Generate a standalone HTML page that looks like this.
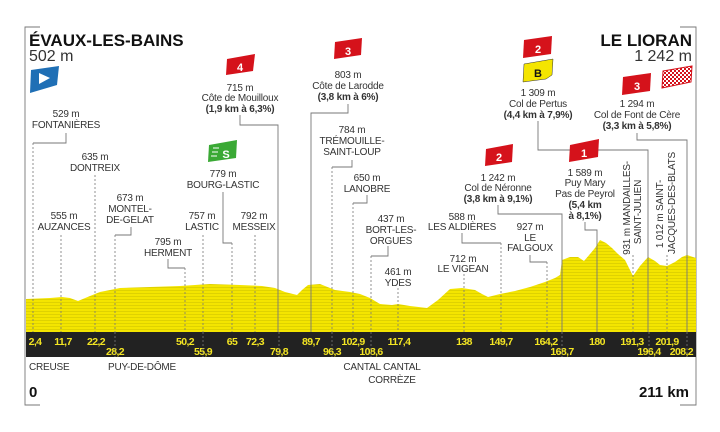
<!DOCTYPE html><html><head><meta charset="utf-8"><style>
html,body{margin:0;padding:0;background:#fff;width:720px;height:432px;overflow:hidden}
svg{display:block;font-family:"Liberation Sans",sans-serif}
.t{font-size:10px;fill:#333;text-anchor:middle;letter-spacing:-0.2px}
.b{font-weight:bold}
.k{font-size:10.5px;font-weight:bold;fill:#f3e523;text-anchor:middle;letter-spacing:-0.6px}
.d{stroke:#777;stroke-width:0.8;stroke-dasharray:2 2;fill:none}
.s{stroke:#777;stroke-width:0.9;fill:none}
.bd{fill:#fff;font-weight:bold;font-size:11px;text-anchor:middle}
</style></head><body>
<svg width="720" height="432" viewBox="0 0 720 432">
<defs><pattern id="st" width="4" height="3" patternUnits="userSpaceOnUse"><rect width="4" height="3" fill="#f4e500"/><rect y="2.1" width="4" height="0.9" fill="#ddd000"/></pattern>
<pattern id="ck" width="4" height="4" patternUnits="userSpaceOnUse"><rect width="4" height="4" fill="#fff"/><rect width="2" height="2" fill="#d5121b"/><rect x="2" y="2" width="2" height="2" fill="#d5121b"/></pattern></defs>
<!-- frame -->
<path class="s" d="M40 27H25V405H40M680 27H696V405H680" stroke="#999"/>
<!-- profile -->
<path fill="url(#st)" d="M26 299L50 298L62 297L70 298L78 301L90 296L100 292L120 288L150 287L180 286L210 284L240 285L262 286L275 288L285 292L297 295L302 290L308 285L320 284L335 290L350 292L360 294L370 298L380 304L392 305L398 304L410 306L427 308L438 300L450 289L462 288L475 290L482 294L488 297L500 294L515 291L530 287L545 282L555 278L560 275L562 260L570 257L578 257L584 261L590 254L595 248L600 240L606 243L612 248L618 254L625 260L633 276L640 266L648 257L655 261L660 265L667 266L675 262L682 257L687 255L696 258V332H26Z"/>
<rect x="26" y="332" width="670" height="25" fill="#222"/>
<!-- km labels -->
<g class="k">
<text x="35" y="345">2,4</text><text x="63" y="345">11,7</text><text x="96" y="345">22,2</text><text x="185" y="345">50,2</text><text x="232" y="345">65</text><text x="255" y="345">72,3</text><text x="311" y="345">89,7</text><text x="353" y="345">102,9</text><text x="399" y="345">117,4</text><text x="464" y="345">138</text><text x="501" y="345">149,7</text><text x="546" y="345">164,2</text><text x="597" y="345">180</text><text x="632" y="345">191,3</text><text x="667" y="345">201,9</text>
<text x="115" y="355">28,2</text><text x="203" y="355">55,9</text><text x="279" y="355">79,8</text><text x="332" y="355">96,3</text><text x="371" y="355">108,6</text><text x="562" y="355">168,7</text><text x="649" y="355">196,4</text><text x="693" y="355" style="text-anchor:end">208,2</text>
</g>
<!-- leader lines -->
<path class="d" d="M33 143V332M61 235V332M95 175V332M115 235V332M185 268V332M203 235V332M232 243V332M255 235V332M353 203V332M332 167V332M371 256V332M398 288V332M464 274V332M501 243V332M547 262V332M633 255V332M667 255V332M115 332V357M203 332V357M279 332V357M332 332V357M371 332V357M562 332V357M649 332V357M687 332V357"/>
<path class="s" d="M66 133V143H33M131 227V235H115M168 259V268H185M223 192V243H232M352 160V167H332M367 195V203H353M388 246V256H371M462 233V243H501M530 255V262H547"/>
<path class="s" d="M240 115V125H278V332M348 104V113H311V332M498 205V214H562V332M585 222V230H597V332M538 121V150H648V332M637 133V140H687V332"/>
<!-- texts -->
<g class="t">
<text x="66" y="117">529 m</text><text x="66" y="128">FONTANIÈRES</text>
<text x="95" y="160">635 m</text><text x="95" y="171">DONTREIX</text>
<text x="130" y="201">673 m</text><text x="130" y="212">MONTEL-</text><text x="130" y="223">DE-GELAT</text>
<text x="64" y="219">555 m</text><text x="64" y="230">AUZANCES</text>
<text x="168" y="245">795 m</text><text x="168" y="256">HERMENT</text>
<text x="223" y="177">779 m</text><text x="223" y="188">BOURG-LASTIC</text>
<text x="202" y="219">757 m</text><text x="202" y="230">LASTIC</text>
<text x="254" y="219">792 m</text><text x="254" y="230">MESSEIX</text>
<text x="240" y="91">715 m</text><text x="240" y="101">Côte de Mouilloux</text><text x="240" y="112" class="b">(1,9 km à 6,3%)</text>
<text x="348" y="78">803 m</text><text x="348" y="89">Côte de Larodde</text><text x="348" y="100" class="b">(3,8 km à 6%)</text>
<text x="352" y="133">784 m</text><text x="352" y="144">TRÉMOUILLE-</text><text x="352" y="155">SAINT-LOUP</text>
<text x="367" y="181">650 m</text><text x="367" y="192">LANOBRE</text>
<text x="391" y="222">437 m</text><text x="391" y="233">BORT-LES-</text><text x="391" y="244">ORGUES</text>
<text x="398" y="275">461 m</text><text x="398" y="286">YDES</text>
<text x="462" y="220">588 m</text><text x="462" y="230">LES ALDIÈRES</text>
<text x="463" y="262">712 m</text><text x="463" y="272">LE VIGEAN</text>
<text x="498" y="181">1 242 m</text><text x="498" y="191">Col de Néronne</text><text x="498" y="202" class="b">(3,8 km à 9,1%)</text>
<text x="530" y="230">927 m</text><text x="530" y="241">LE</text><text x="530" y="251">FALGOUX</text>
<text x="585" y="176">1 589 m</text><text x="585" y="186">Puy Mary</text><text x="585" y="197">Pas de Peyrol</text><text x="585" y="208" class="b">(5,4 km</text><text x="585" y="219" class="b">à 8,1%)</text>
<text x="538" y="96">1 309 m</text><text x="538" y="107">Col de Pertus</text><text x="538" y="118" class="b">(4,4 km à 7,9%)</text>
<text x="637" y="107">1 294 m</text><text x="637" y="118">Col de Font de Cère</text><text x="637" y="129" class="b">(3,3 km à 5,8%)</text>
<text transform="translate(630,208) rotate(-90)">931 m MANDAILLES-</text>
<text transform="translate(641,212) rotate(-90)">SAINT-JULIEN</text>
<text transform="translate(663,214) rotate(-90)">1 012 m SAINT-</text>
<text transform="translate(675,203) rotate(-90)">JACQUES-DES-BLATS</text>
<text x="29" y="370" style="text-anchor:start">CREUSE</text>
<text x="108" y="370" style="text-anchor:start">PUY-DE-DÔME</text>
<text x="382" y="370">CANTAL CANTAL</text>
<text x="392" y="383">CORRÈZE</text>
</g>
<text x="29" y="46" style="font-size:17px;font-weight:bold;fill:#111">ÉVAUX-LES-BAINS</text>
<text x="29" y="61" style="font-size:16px;fill:#333">502 m</text>
<text x="692" y="46" style="font-size:17px;font-weight:bold;fill:#111;text-anchor:end">LE LIORAN</text>
<text x="692" y="61" style="font-size:16px;fill:#333;text-anchor:end">1 242 m</text>
<text x="29" y="397" style="font-size:15px;font-weight:bold;fill:#111">0</text>
<text x="689" y="397" style="font-size:15px;font-weight:bold;fill:#111;text-anchor:end">211 km</text>
<!-- badges -->
<path d="M31 70L59 66L57 85L30 93Z" fill="#1f6fb5"/><path d="M39 73L50 78L39 84Z" fill="#fff"/>
<g><path d="M227 59L255 54L253 71L226 75Z" fill="#d5121b"/><text class="bd" x="240" y="71">4</text></g>
<g><path d="M335 42L362 38L361 55L334 59Z" fill="#d5121b"/><text class="bd" x="348" y="55">3</text></g>
<path d="M209 145L237 140L236 158L208 162Z" fill="#3aa935"/><text class="bd" x="226" y="158">S</text><path d="M213 148h6M212 152h6M211 156h6" stroke="#fff" stroke-width="1"/>
<g><path d="M524 40L552 36L551 54L523 58Z" fill="#d5121b"/><text class="bd" x="538" y="53">2</text></g>
<path d="M524 64L553 59L552 75L546 79L523 82Z" fill="#f4e500" stroke="#333" stroke-width="0.5"/><text x="538" y="77" style="font-size:11px;font-weight:bold;text-anchor:middle;fill:#111">B</text>
<g><path d="M486 149L513 144L512 162L485 166Z" fill="#d5121b"/><text class="bd" x="499" y="161">2</text></g>
<g><path d="M570 145L599 139L598 157L569 162Z" fill="#d5121b"/><text class="bd" x="584" y="157">1</text></g>
<g><path d="M623 77L651 73L650 91L622 95Z" fill="#d5121b"/><text class="bd" x="637" y="90">3</text></g>
<path d="M663 71L692 66L691 82L662 88Z" fill="url(#ck)" stroke="#d5121b" stroke-width="1"/>
</svg>
</body></html>
